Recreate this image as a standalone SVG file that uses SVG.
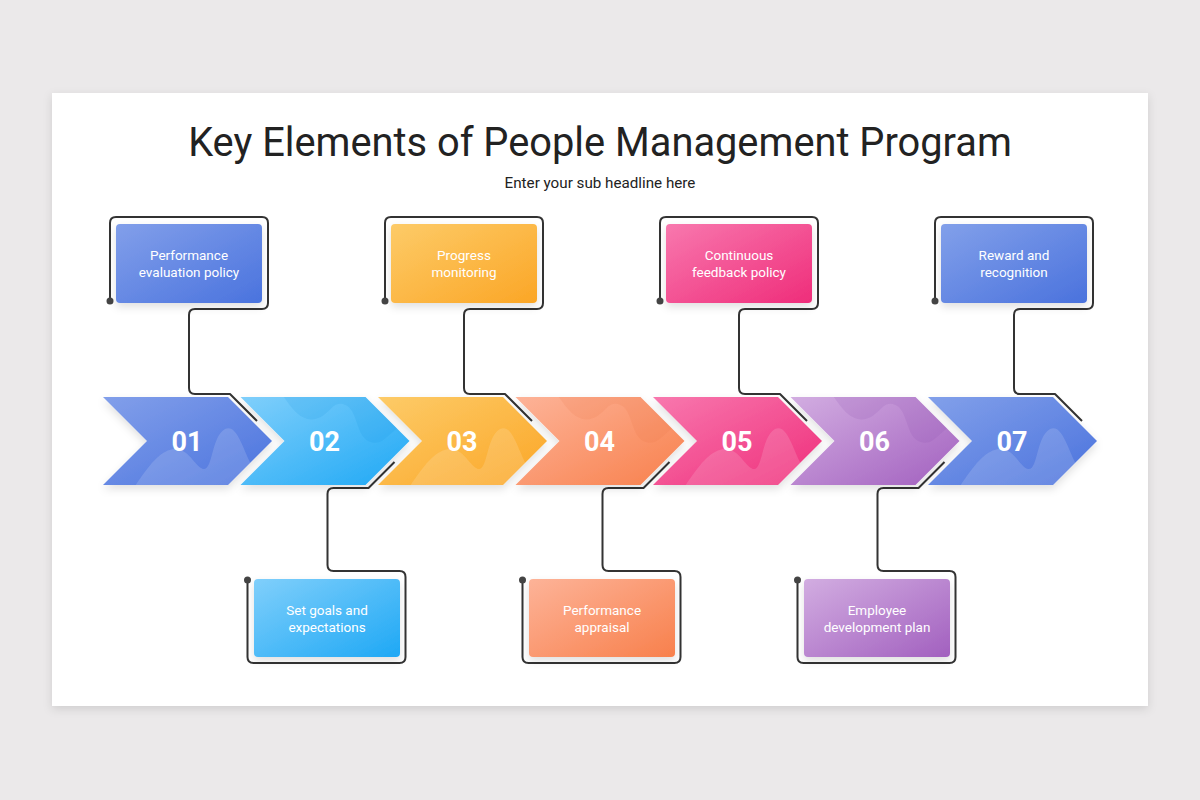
<svg xmlns="http://www.w3.org/2000/svg" width="1200" height="800" viewBox="0 0 1200 800">
<defs>
<style>
.title{font-family:Roboto,"Liberation Sans",sans-serif;font-size:39.8px;fill:#222;text-anchor:middle}
.sub{font-family:Roboto,"Liberation Sans",sans-serif;font-size:15.2px;fill:#222;text-anchor:middle}
.num{font-family:Roboto,"Liberation Sans",sans-serif;font-size:27px;font-weight:bold;fill:#fff;text-anchor:middle}
.lbl{font-family:Roboto,"Liberation Sans",sans-serif;font-size:13.5px;fill:#fff;text-anchor:middle}
.con{fill:none;stroke:#333;stroke-width:2;stroke-linejoin:round}
.dot{fill:#444}
.wave{fill:#fff;opacity:.14}
</style>
<filter id="cardsh" x="-5%" y="-5%" width="110%" height="115%"><feDropShadow dx="0" dy="3" stdDeviation="5" flood-color="#000" flood-opacity="0.12"/></filter>
<filter id="sh" x="-10%" y="-10%" width="120%" height="130%"><feDropShadow dx="0" dy="4" stdDeviation="4" flood-color="#000" flood-opacity="0.12"/></filter>
<clipPath id="chclip"><path d="M0,0 H125 L169,44 L125,88 H0 L44,44 Z"/></clipPath>
<linearGradient id="g1" x1="0" y1="0" x2="1" y2="1"><stop offset="0" stop-color="#829fea"/><stop offset="1" stop-color="#4a73de"/></linearGradient>
<linearGradient id="g2" x1="0" y1="0" x2="1" y2="1"><stop offset="0" stop-color="#80cffb"/><stop offset="1" stop-color="#1ea8f5"/></linearGradient>
<linearGradient id="g3" x1="0" y1="0" x2="1" y2="1"><stop offset="0" stop-color="#fdcb68"/><stop offset="1" stop-color="#fba626"/></linearGradient>
<linearGradient id="g4" x1="0" y1="0" x2="1" y2="1"><stop offset="0" stop-color="#fdb398"/><stop offset="1" stop-color="#f8804c"/></linearGradient>
<linearGradient id="g5" x1="0" y1="0" x2="1" y2="1"><stop offset="0" stop-color="#f878ae"/><stop offset="1" stop-color="#ef2d7a"/></linearGradient>
<linearGradient id="g6" x1="0" y1="0" x2="1" y2="1"><stop offset="0" stop-color="#d2ade1"/><stop offset="1" stop-color="#a260bf"/></linearGradient>
<linearGradient id="g7" x1="0" y1="0" x2="1" y2="1"><stop offset="0" stop-color="#82a0ea"/><stop offset="1" stop-color="#4a72dd"/></linearGradient>
<path id="chev" d="M0,0 H125 L169,44 L125,88 H0 L44,44 Z"/>
<path id="wv" d="M30,92 C45,70 55,55 70,52 C85,50 92,70 100,72 C110,74 108,40 122,32 C135,26 140,55 150,70 L180,100 Z"/>
<path id="wvt" d="M40,-5 C50,10 60,25 75,22 C90,18 92,2 105,8 C118,14 115,40 130,45 C145,50 150,30 175,20 L175,-5 Z"/>
</defs>
<rect width="1200" height="800" fill="#ebe9ea"/>
<rect x="52" y="93" width="1096" height="613" fill="#fff" filter="url(#cardsh)"/>
<text class="title" x="600" y="156">Key Elements of People Management Program</text>
<text class="sub" x="600" y="188">Enter your sub headline here</text>

<g id="connectors">
<path class="con" d="M110,301 V223 Q110,217 116,217 H262 Q268,217 268,223 V303 Q268,309 262,309 H195 Q189,309 189,315 V388 Q189,394 195,394 H230 L257,421"/>
<path class="con" d="M385,301 V223 Q385,217 391,217 H537 Q543,217 543,223 V303 Q543,309 537,309 H470 Q464,309 464,315 V388 Q464,394 470,394 H505 L532,421"/>
<path class="con" d="M660,301 V223 Q660,217 666,217 H812 Q818,217 818,223 V303 Q818,309 812,309 H745 Q739,309 739,315 V388 Q739,394 745,394 H780 L807,421"/>
<path class="con" d="M935,301 V223 Q935,217 941,217 H1087 Q1093,217 1093,223 V303 Q1093,309 1087,309 H1020 Q1014,309 1014,315 V388 Q1014,394 1020,394 H1055 L1082,421"/>
<path class="con" d="M394.5,462 L368.5,488 H333.5 Q327.5,488 327.5,494 V565 Q327.5,571 333.5,571 H399.5 Q405.5,571 405.5,577 V657 Q405.5,663 399.5,663 H253.5 Q247.5,663 247.5,657 V580"/>
<path class="con" d="M669.5,462 L643.5,488 H608.5 Q602.5,488 602.5,494 V565 Q602.5,571 608.5,571 H674.5 Q680.5,571 680.5,577 V657 Q680.5,663 674.5,663 H528.5 Q522.5,663 522.5,657 V580"/>
<path class="con" d="M944.5,462 L918.5,488 H883.5 Q877.5,488 877.5,494 V565 Q877.5,571 883.5,571 H949.5 Q955.5,571 955.5,577 V657 Q955.5,663 949.5,663 H803.5 Q797.5,663 797.5,657 V580"/>
<circle class="dot" cx="110" cy="301" r="3.5"/>
<circle class="dot" cx="385" cy="301" r="3.5"/>
<circle class="dot" cx="660" cy="301" r="3.5"/>
<circle class="dot" cx="935" cy="301" r="3.5"/>
<circle class="dot" cx="247.5" cy="580" r="3.5"/>
<circle class="dot" cx="522.5" cy="580" r="3.5"/>
<circle class="dot" cx="797.5" cy="580" r="3.5"/>
</g>

<g id="step01" transform="translate(103,397)">
<use href="#chev" fill="url(#g1)" filter="url(#sh)"/>
<g clip-path="url(#chclip)"><use href="#wv" class="wave"/></g>
<text class="num" x="84" y="54">01</text>
</g>
<g id="step02" transform="translate(240.5,397)">
<use href="#chev" fill="url(#g2)" filter="url(#sh)"/>
<g clip-path="url(#chclip)"><use href="#wvt" fill="#0a8fe0" opacity=".12"/></g>
<text class="num" x="84" y="54">02</text>
</g>
<g id="step03" transform="translate(378,397)">
<use href="#chev" fill="url(#g3)" filter="url(#sh)"/>
<g clip-path="url(#chclip)"><use href="#wv" class="wave"/></g>
<text class="num" x="84" y="54">03</text>
</g>
<g id="step04" transform="translate(515.5,397)">
<use href="#chev" fill="url(#g4)" filter="url(#sh)"/>
<g clip-path="url(#chclip)"><use href="#wvt" fill="#e86a3a" opacity=".12"/></g>
<text class="num" x="84" y="54">04</text>
</g>
<g id="step05" transform="translate(653,397)">
<use href="#chev" fill="url(#g5)" filter="url(#sh)"/>
<g clip-path="url(#chclip)"><use href="#wv" class="wave"/></g>
<text class="num" x="84" y="54">05</text>
</g>
<g id="step06" transform="translate(790.5,397)">
<use href="#chev" fill="url(#g6)" filter="url(#sh)"/>
<g clip-path="url(#chclip)"><use href="#wvt" fill="#8a48aa" opacity=".14"/></g>
<text class="num" x="84" y="54">06</text>
</g>
<g id="step07" transform="translate(928,397)">
<use href="#chev" fill="url(#g7)" filter="url(#sh)"/>
<g clip-path="url(#chclip)"><use href="#wv" class="wave"/></g>
<text class="num" x="84" y="54">07</text>
</g>

<g id="box01">
<rect x="116" y="224" width="146" height="79" rx="4" fill="url(#g1)" filter="url(#sh)"/>
<text class="lbl" x="189" y="260">Performance</text>
<text class="lbl" x="189" y="277">evaluation policy</text>
</g>
<g id="box03">
<rect x="391" y="224" width="146" height="79" rx="4" fill="url(#g3)" filter="url(#sh)"/>
<text class="lbl" x="464" y="260">Progress</text>
<text class="lbl" x="464" y="277">monitoring</text>
</g>
<g id="box05">
<rect x="666" y="224" width="146" height="79" rx="4" fill="url(#g5)" filter="url(#sh)"/>
<text class="lbl" x="739" y="260">Continuous</text>
<text class="lbl" x="739" y="277">feedback policy</text>
</g>
<g id="box07">
<rect x="941" y="224" width="146" height="79" rx="4" fill="url(#g7)" filter="url(#sh)"/>
<text class="lbl" x="1014" y="260">Reward and</text>
<text class="lbl" x="1014" y="277">recognition</text>
</g>
<g id="box02">
<rect x="254" y="579" width="146" height="78" rx="4" fill="url(#g2)" filter="url(#sh)"/>
<text class="lbl" x="327" y="615">Set goals and</text>
<text class="lbl" x="327" y="632">expectations</text>
</g>
<g id="box04">
<rect x="529" y="579" width="146" height="78" rx="4" fill="url(#g4)" filter="url(#sh)"/>
<text class="lbl" x="602" y="615">Performance</text>
<text class="lbl" x="602" y="632">appraisal</text>
</g>
<g id="box06">
<rect x="804" y="579" width="146" height="78" rx="4" fill="url(#g6)" filter="url(#sh)"/>
<text class="lbl" x="877" y="615">Employee</text>
<text class="lbl" x="877" y="632">development plan</text>
</g>
</svg>
